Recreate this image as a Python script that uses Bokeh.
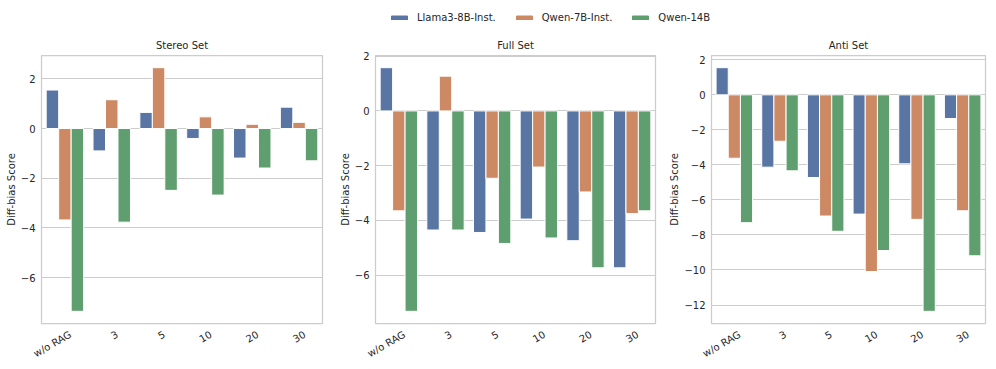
from bokeh.plotting import figure
from bokeh.models import (ColumnDataSource, Range1d, FixedTicker, Legend, LegendItem, FactorRange,
                          LinearAxis)
from bokeh.transform import dodge
from bokeh.layouts import column, row
from bokeh.embed import file_html
from bokeh.resources import INLINE

categories = ["w/o RAG", "3", "5", "10", "20", "30"]
models = ["Llama3-8B-Inst.", "Qwen-7B-Inst.", "Qwen-14B"]
colors = ["#5975a4", "#cc8963", "#5f9e6e"]

stereo_llama = [1.55, -0.90, 0.65, -0.40, -1.19, 0.86]
stereo_qwen7 = [-3.68, 1.16, 2.45, 0.47, 0.17, 0.25]
stereo_qwen14 = [-7.36, -3.77, -2.49, -2.68, -1.59, -1.30]

full_llama = [1.58, -4.35, -4.44, -3.95, -4.74, -5.73]
full_qwen7 = [-3.65, 1.27, -2.46, -2.05, -2.96, -3.75]
full_qwen14 = [-7.32, -4.35, -4.84, -4.64, -5.73, -3.65]

anti_llama = [1.55, -4.13, -4.72, -6.81, -3.94, -1.35]
anti_qwen7 = [-3.62, -2.65, -6.92, -10.09, -7.11, -6.62]
anti_qwen14 = [-7.30, -4.34, -7.79, -8.89, -12.36, -9.19]

stereo_ticks = [-6, -4, -2, 0, 2]
full_ticks = [-6, -4, -2, 0, 2]
anti_ticks = [-12, -10, -8, -6, -4, -2, 0, 2]

FONT = "DejaVu Sans"
TXT = "#262626"
GRID = "#cccccc"
LABEL_SHIFT = 0.12


def style_axis(ax):
    ax.axis_line_color = None
    ax.major_tick_line_color = None
    ax.minor_tick_line_color = None
    ax.major_tick_out = 0
    ax.major_tick_in = 0
    ax.minor_tick_out = 0
    ax.minor_tick_in = 0
    ax.major_label_text_font = FONT
    ax.major_label_text_font_size = "10px"
    ax.major_label_text_color = TXT
    ax.axis_label_text_font = FONT
    ax.axis_label_text_font_size = "10px"
    ax.axis_label_text_font_style = "normal"
    ax.axis_label_text_color = TXT


def make_panel(title, series, ticks, width, left, right):
    vals = [v for s in series for v in s]
    lo, hi = min(min(vals), 0), max(max(vals), 0)
    pad = 0.05 * (hi - lo)
    n = len(categories)
    p = figure(width=width, height=336, output_backend="svg", toolbar_location=None,
               x_range=Range1d(0, n), y_range=Range1d(lo - pad, hi + pad), x_axis_location=None,
               min_border_left=left, min_border_right=right,
               min_border_top=25, min_border_bottom=40, title=title)
    pos = [k + 0.5 for k in range(n)]
    src = ColumnDataSource(dict(cat=categories, pos=pos, s0=series[0], s1=series[1], s2=series[2]))
    w = 0.8 / 3
    for i, key in enumerate(["s0", "s1", "s2"]):
        p.vbar(x=dodge("pos", (i - 1) * w), top=key, width=w, source=src,
               fill_color=colors[i], line_color="white", line_width=1)
    # category labels on a copy of the x range, nudged so the rotated labels sit centred
    p.extra_x_ranges = {"lbl": Range1d(-LABEL_SHIFT, n - LABEL_SHIFT)}
    xax = LinearAxis(x_range_name="lbl", ticker=FixedTicker(ticks=pos),
                     major_label_overrides={t: c for t, c in zip(pos, categories)})
    style_axis(xax)
    xax.major_label_orientation = 0.5236
    xax.major_label_standoff = 10
    p.add_layout(xax, "below")
    p.title.text_font = FONT
    p.title.text_font_size = "10px"
    p.title.text_font_style = "normal"
    p.title.text_color = TXT
    p.title.align = "center"
    p.outline_line_color = GRID
    p.outline_line_width = 1.25
    p.xgrid.visible = False
    p.ygrid.grid_line_color = GRID
    p.ygrid.grid_line_width = 1
    p.ygrid.ticker = FixedTicker(ticks=ticks)
    ax = p.yaxis[0]
    ax.ticker = FixedTicker(ticks=ticks)
    ax.major_label_overrides = {t: str(t).replace("-", "\u2212") for t in ticks}
    ax.axis_label = "Diff-bias Score"
    style_axis(ax)
    ax.major_label_standoff = 6
    ax.axis_label_standoff = 1
    return p


p1 = make_panel("Stereo Set", [stereo_llama, stereo_qwen7, stereo_qwen14], stereo_ticks, 335, 41, 13)
p2 = make_panel("Full Set", [full_llama, full_qwen7, full_qwen14], full_ticks, 331, 40, 11)
p3 = make_panel("Anti Set", [anti_llama, anti_qwen7, anti_qwen14], anti_ticks, 330, 43, 11)

lg = figure(width=996, height=30, output_backend="svg", toolbar_location=None,
            x_range=FactorRange(factors=categories), y_range=Range1d(0, 1), min_border=0)
lg.axis.visible = False
lg.grid.visible = False
lg.outline_line_color = None
leg_src = ColumnDataSource(dict(cat=categories, s0=stereo_llama, s1=stereo_qwen7, s2=stereo_qwen14))
items = []
for i, (name, c) in enumerate(zip(models, colors)):
    r = lg.vbar(x="cat", top="s%d" % i, width=0.2, source=leg_src, fill_color=c, line_color=c,
                visible=False)
    items.append(LegendItem(label=name, renderers=[r]))
leg = Legend(items=items, orientation="horizontal", location=(389, 7), padding=0, margin=0,
             border_line_color=None, background_fill_alpha=0, glyph_width=20, glyph_height=5,
             label_standoff=8, spacing=18, label_text_font=FONT, label_text_font_size="10px",
             label_text_color=TXT)
lg.add_layout(leg, "center")

layout = column(lg, row(p1, p2, p3))
open("out.html", "w").write(file_html(layout, INLINE))
